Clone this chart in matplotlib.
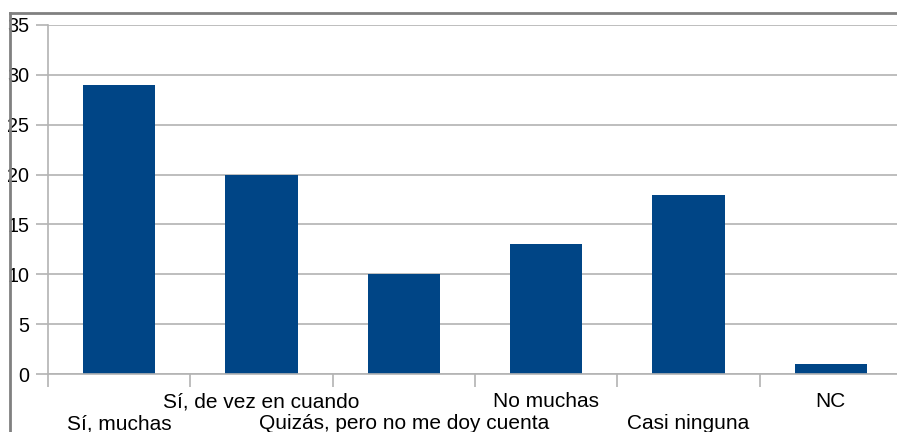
import matplotlib.pyplot as plt
from matplotlib.lines import Line2D

categorias = ["Sí, muchas", "Sí, de vez en cuando", "Quizás, pero no me doy cuenta",
              "No muchas", "Casi ninguna", "NC"]
valores = [29, 20, 10, 13, 18, 1]
yticks = [0, 5, 10, 15, 20, 25, 30, 35]

plt.rcParams['font.family'] = ['Liberation Sans', 'DejaVu Sans']

fig = plt.figure(figsize=(8.97, 4.32), dpi=100)
ax = fig.add_axes([48 / 897, 1 - 374 / 432, 854 / 897, 349 / 432])

x = list(range(len(categorias)))
ax.bar(x, valores, width=0.506, color="#004586", zorder=3)

ax.set_xlim(-0.5, len(categorias) - 0.5)
ax.set_ylim(0, 35)
ax.set_yticks(yticks)
ax.set_yticklabels([str(v) for v in yticks], fontsize=14.2)
ax.grid(axis="y", color="#b3b3b3", linewidth=1.2, zorder=0)

# x ticks at category boundaries, labels staggered between them
ax.set_xticks([i - 0.5 for i in range(len(categorias))])
ax.set_xticklabels([])
ax.tick_params(axis="x", length=9, color="#b3b3b3", width=1.2)
ax.tick_params(axis="y", length=9, color="#b3b3b3", width=1.2, pad=4.5)
for i, lab in enumerate(categorias):
    dy = -18 if i % 2 == 1 else -40
    ax.annotate(lab, xy=(i, 0), xycoords="data", xytext=(0, dy),
                textcoords="offset pixels", ha="center", va="top", fontsize=15,
                annotation_clip=False)

for side in ["top", "right", "bottom"]:
    ax.spines[side].set_visible(False)
ax.spines["left"].set_color("#b3b3b3")
ax.spines["left"].set_linewidth(1.2)
ax.axhline(0, color="#b3b3b3", linewidth=1.2, zorder=4, clip_on=False)

# outer frame
fx = 9.5 / 897
fy = 1 - 13 / 432
fig.add_artist(Line2D([fx, 1.01], [fy, fy], color="#808080", linewidth=2))
fig.add_artist(Line2D([fx, fx], [fy, -0.01], color="#808080", linewidth=2))

fig.savefig("out.png", dpi=100)
